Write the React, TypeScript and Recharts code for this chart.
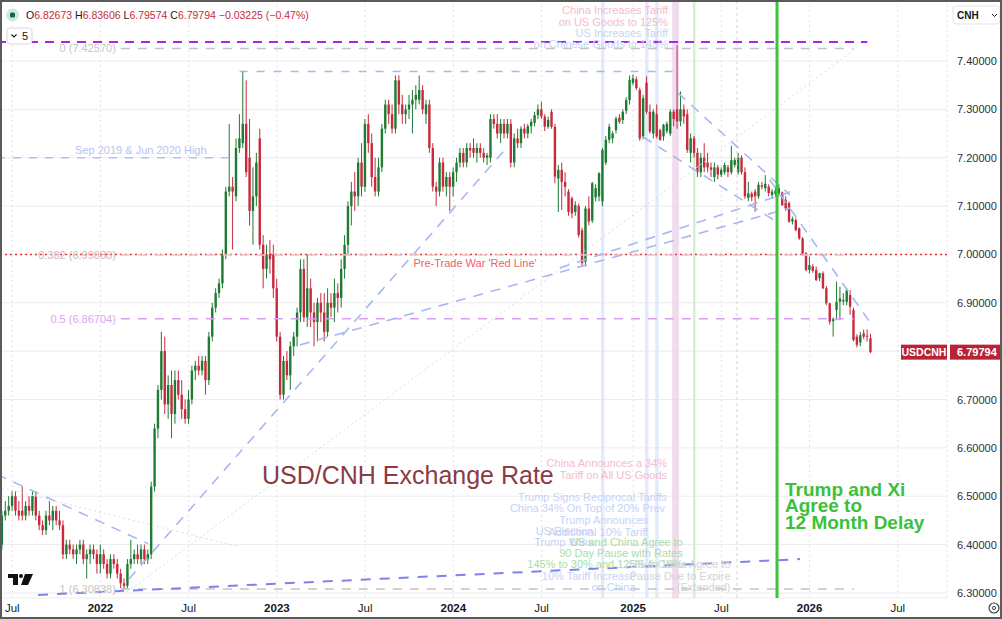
import React from "react";
import {
  ComposedChart,
  Bar,
  XAxis,
  YAxis,
  CartesianGrid,
  ReferenceLine,
  ReferenceArea,
  ReferenceDot,
} from "recharts";

// weekly USD/CNH candles [open, high, low, close], first bar = week of 14 Jun 2021
const ohlc: [number, number, number, number][] = [
  [6.40, 6.47, 6.39, 6.46], [6.46, 6.49, 6.45, 6.47], [6.47, 6.50, 6.46, 6.48], [6.48, 6.51, 6.47, 6.50],
  [6.50, 6.51, 6.46, 6.47], [6.47, 6.49, 6.45, 6.46], [6.47, 6.52, 6.45, 6.46], [6.46, 6.49, 6.45, 6.48],
  [6.48, 6.50, 6.46, 6.47], [6.47, 6.51, 6.46, 6.50], [6.50, 6.51, 6.45, 6.46], [6.46, 6.47, 6.43, 6.44],
  [6.44, 6.45, 6.42, 6.43], [6.43, 6.47, 6.42, 6.46], [6.46, 6.49, 6.44, 6.45], [6.45, 6.48, 6.43, 6.47],
  [6.47, 6.48, 6.44, 6.45], [6.45, 6.47, 6.43, 6.44], [6.44, 6.45, 6.37, 6.38], [6.38, 6.41, 6.37, 6.40],
  [6.40, 6.41, 6.38, 6.39], [6.39, 6.40, 6.37, 6.38], [6.38, 6.40, 6.36, 6.39], [6.39, 6.41, 6.38, 6.40],
  [6.40, 6.41, 6.36, 6.37], [6.37, 6.39, 6.33, 6.38], [6.38, 6.40, 6.36, 6.39], [6.39, 6.40, 6.37, 6.38],
  [6.38, 6.39, 6.34, 6.36], [6.36, 6.40, 6.34, 6.38], [6.38, 6.39, 6.35, 6.36], [6.36, 6.37, 6.33, 6.34],
  [6.34, 6.38, 6.33, 6.37], [6.37, 6.38, 6.35, 6.36], [6.36, 6.37, 6.33, 6.34], [6.34, 6.35, 6.31, 6.32],
  [6.32, 6.33, 6.308, 6.315], [6.315, 6.37, 6.31, 6.36], [6.36, 6.41, 6.35, 6.37], [6.37, 6.39, 6.36, 6.38],
  [6.38, 6.40, 6.36, 6.37], [6.37, 6.40, 6.36, 6.39], [6.39, 6.40, 6.36, 6.37], [6.37, 6.39, 6.36, 6.38],
  [6.38, 6.53, 6.37, 6.52], [6.52, 6.65, 6.51, 6.64], [6.64, 6.73, 6.62, 6.72], [6.72, 6.84, 6.70, 6.80],
  [6.80, 6.83, 6.67, 6.69], [6.69, 6.75, 6.66, 6.73], [6.73, 6.76, 6.62, 6.67], [6.67, 6.76, 6.65, 6.74],
  [6.74, 6.76, 6.70, 6.71], [6.71, 6.74, 6.66, 6.68], [6.68, 6.70, 6.65, 6.66], [6.66, 6.72, 6.65, 6.70],
  [6.70, 6.77, 6.69, 6.76], [6.76, 6.78, 6.74, 6.77], [6.77, 6.79, 6.75, 6.76], [6.76, 6.79, 6.75, 6.78],
  [6.78, 6.79, 6.71, 6.74], [6.74, 6.84, 6.73, 6.83], [6.83, 6.90, 6.82, 6.89], [6.89, 6.93, 6.88, 6.92],
  [6.92, 6.95, 6.91, 6.94], [6.94, 7.01, 6.93, 7.00], [7.00, 7.14, 6.99, 7.13], [7.13, 7.27, 7.12, 7.14],
  [7.14, 7.16, 7.01, 7.13], [7.12, 7.24, 7.11, 7.22], [7.22, 7.29, 7.21, 7.24], [7.23, 7.38, 7.22, 7.27],
  [7.27, 7.36, 7.16, 7.17], [7.20, 7.28, 7.06, 7.09], [7.09, 7.18, 7.02, 7.12], [7.12, 7.21, 7.10, 7.19],
  [7.24, 7.26, 7.01, 7.02], [7.02, 7.04, 6.93, 6.97], [6.97, 7.02, 6.95, 7.00], [7.00, 7.03, 6.96, 6.99],
  [7.00, 7.02, 6.91, 6.93], [6.93, 6.95, 6.82, 6.83], [6.83, 6.84, 6.70, 6.71], [6.71, 6.79, 6.70, 6.78],
  [6.78, 6.80, 6.74, 6.75], [6.75, 6.82, 6.72, 6.81], [6.81, 6.84, 6.79, 6.83], [6.83, 6.89, 6.81, 6.88],
  [6.88, 6.99, 6.86, 6.97], [6.97, 6.99, 6.86, 6.87], [6.87, 7.00, 6.85, 6.93], [6.93, 6.95, 6.85, 6.88],
  [6.88, 6.90, 6.81, 6.86], [6.86, 6.91, 6.82, 6.90], [6.90, 6.92, 6.86, 6.88], [6.88, 6.92, 6.82, 6.84],
  [6.84, 6.93, 6.83, 6.90], [6.90, 6.92, 6.87, 6.89], [6.89, 6.95, 6.86, 6.92], [6.92, 6.94, 6.88, 6.91],
  [6.91, 6.99, 6.89, 6.97], [6.97, 7.04, 6.95, 7.02], [7.02, 7.11, 7.00, 7.10], [7.10, 7.15, 7.06, 7.13],
  [7.13, 7.17, 7.09, 7.12], [7.12, 7.20, 7.10, 7.19], [7.19, 7.23, 7.12, 7.14], [7.14, 7.28, 7.13, 7.27],
  [7.27, 7.29, 7.21, 7.23], [7.23, 7.25, 7.14, 7.16], [7.16, 7.20, 7.12, 7.13], [7.13, 7.20, 7.12, 7.18],
  [7.18, 7.27, 7.17, 7.26], [7.26, 7.32, 7.25, 7.31], [7.31, 7.32, 7.27, 7.29], [7.29, 7.31, 7.25, 7.26],
  [7.26, 7.37, 7.25, 7.36], [7.36, 7.37, 7.29, 7.31], [7.31, 7.33, 7.27, 7.29], [7.29, 7.31, 7.27, 7.30],
  [7.30, 7.33, 7.28, 7.31], [7.31, 7.34, 7.25, 7.32], [7.32, 7.35, 7.30, 7.33], [7.32, 7.37, 7.31, 7.34],
  [7.34, 7.35, 7.29, 7.30], [7.29, 7.32, 7.27, 7.31], [7.31, 7.32, 7.21, 7.22], [7.22, 7.23, 7.13, 7.14],
  [7.14, 7.15, 7.10, 7.13], [7.13, 7.20, 7.12, 7.19], [7.19, 7.20, 7.13, 7.14], [7.14, 7.17, 7.12, 7.16],
  [7.16, 7.17, 7.09, 7.14], [7.14, 7.18, 7.12, 7.17], [7.17, 7.20, 7.15, 7.19], [7.19, 7.22, 7.18, 7.21],
  [7.21, 7.22, 7.18, 7.19], [7.19, 7.23, 7.18, 7.22], [7.22, 7.23, 7.20, 7.215], [7.22, 7.24, 7.20, 7.21],
  [7.21, 7.23, 7.19, 7.22], [7.22, 7.23, 7.20, 7.21], [7.21, 7.22, 7.19, 7.20], [7.20, 7.21, 7.185, 7.205],
  [7.20, 7.29, 7.19, 7.28], [7.28, 7.29, 7.26, 7.27], [7.27, 7.29, 7.24, 7.25], [7.25, 7.28, 7.23, 7.27],
  [7.27, 7.28, 7.24, 7.25], [7.25, 7.28, 7.24, 7.27], [7.27, 7.28, 7.18, 7.19], [7.19, 7.25, 7.18, 7.24],
  [7.24, 7.26, 7.22, 7.23], [7.23, 7.265, 7.22, 7.26], [7.26, 7.27, 7.24, 7.25], [7.25, 7.27, 7.24, 7.265],
  [7.265, 7.28, 7.25, 7.274], [7.272, 7.295, 7.265, 7.288], [7.288, 7.31, 7.28, 7.30], [7.30, 7.316, 7.28, 7.285],
  [7.285, 7.29, 7.255, 7.264], [7.264, 7.285, 7.26, 7.278], [7.295, 7.30, 7.26, 7.264], [7.264, 7.27, 7.147, 7.161],
  [7.157, 7.185, 7.088, 7.175], [7.175, 7.19, 7.092, 7.15], [7.15, 7.17, 7.12, 7.14], [7.13, 7.135, 7.08, 7.088],
  [7.116, 7.12, 7.075, 7.085], [7.088, 7.11, 7.08, 7.102], [7.10, 7.105, 7.035, 7.04], [7.05, 7.055, 6.975, 6.982],
  [6.985, 7.10, 6.975, 7.095], [7.095, 7.12, 7.06, 7.068], [7.07, 7.15, 7.065, 7.147], [7.118, 7.145, 7.11, 7.137],
  [7.12, 7.17, 7.11, 7.168], [7.11, 7.22, 7.10, 7.216], [7.19, 7.245, 7.185, 7.237], [7.237, 7.27, 7.23, 7.264],
  [7.24, 7.255, 7.23, 7.25], [7.257, 7.285, 7.25, 7.281], [7.283, 7.29, 7.27, 7.274], [7.278, 7.30, 7.27, 7.295],
  [7.297, 7.325, 7.29, 7.319], [7.319, 7.37, 7.31, 7.361], [7.355, 7.372, 7.35, 7.364], [7.362, 7.368, 7.34, 7.344],
  [7.34, 7.345, 7.235, 7.24], [7.244, 7.33, 7.238, 7.323], [7.355, 7.368, 7.29, 7.295], [7.295, 7.31, 7.25, 7.254],
  [7.25, 7.30, 7.24, 7.295], [7.29, 7.31, 7.24, 7.244], [7.257, 7.26, 7.235, 7.237], [7.244, 7.27, 7.235, 7.268],
  [7.255, 7.275, 7.25, 7.27], [7.25, 7.30, 7.245, 7.295], [7.295, 7.30, 7.265, 7.28], [7.30, 7.433, 7.26, 7.275],
  [7.275, 7.337, 7.265, 7.30], [7.30, 7.31, 7.27, 7.285], [7.29, 7.30, 7.21, 7.216], [7.21, 7.25, 7.19, 7.24],
  [7.24, 7.245, 7.20, 7.21], [7.21, 7.22, 7.16, 7.17], [7.17, 7.21, 7.16, 7.20], [7.20, 7.23, 7.17, 7.18],
  [7.19, 7.21, 7.17, 7.18], [7.18, 7.19, 7.16, 7.175], [7.16, 7.19, 7.15, 7.18], [7.18, 7.185, 7.155, 7.165],
  [7.165, 7.18, 7.16, 7.175], [7.17, 7.19, 7.165, 7.185], [7.18, 7.185, 7.16, 7.17], [7.17, 7.225, 7.165, 7.195],
  [7.185, 7.20, 7.18, 7.195], [7.17, 7.21, 7.165, 7.20], [7.20, 7.205, 7.165, 7.17], [7.17, 7.18, 7.115, 7.12],
  [7.117, 7.15, 7.11, 7.126], [7.126, 7.13, 7.11, 7.118], [7.13, 7.135, 7.088, 7.12], [7.12, 7.15, 7.115, 7.144],
  [7.143, 7.15, 7.135, 7.14], [7.137, 7.164, 7.13, 7.146], [7.14, 7.145, 7.12, 7.127], [7.123, 7.135, 7.115, 7.13],
  [7.125, 7.14, 7.12, 7.132], [7.126, 7.145, 7.12, 7.137], [7.128, 7.13, 7.10, 7.102], [7.113, 7.12, 7.09, 7.095],
  [7.106, 7.11, 7.065, 7.068], [7.068, 7.078, 7.062, 7.073], [7.071, 7.075, 7.048, 7.05], [7.054, 7.056, 7.03, 7.033],
  [7.033, 7.036, 6.998, 7.002], [7.002, 7.005, 6.965, 6.968], [6.968, 6.995, 6.96, 6.978], [6.975, 6.98, 6.962, 6.966],
  [6.968, 6.975, 6.945, 6.947], [6.951, 6.962, 6.945, 6.961], [6.961, 6.965, 6.928, 6.93], [6.93, 6.935, 6.895, 6.899],
  [6.899, 6.90, 6.855, 6.861], [6.862, 6.87, 6.83, 6.866], [6.885, 6.944, 6.864, 6.902], [6.902, 6.933, 6.864, 6.909],
  [6.903, 6.92, 6.895, 6.906], [6.902, 6.93, 6.895, 6.926], [6.916, 6.926, 6.875, 6.892], [6.885, 6.89, 6.82, 6.823],
  [6.83, 6.835, 6.808, 6.813], [6.818, 6.84, 6.81, 6.833], [6.837, 6.845, 6.825, 6.83], [6.832, 6.845, 6.82, 6.83019],
  [6.82673, 6.83606, 6.79574, 6.79794],
];

const xTicks = [3, 29, 55, 81, 107, 133, 159, 186, 212, 238, 264];
const xTickLabels = ["Jul", "2022", "Jul", "2023", "Jul", "2024", "Jul", "2025", "Jul", "2026", "Jul"];
const priceTicks = [6.3, 6.4, 6.5, 6.6, 6.7, 6.8, 6.9, 7.0, 7.1, 7.2, 7.3, 7.4];

// fibonacci retracement 2022 low -> 2025 high
const fibNames = ["0", "0.382", "0.5", "1"];
const fibValues = [7.4257, 6.99888, 6.86704, 6.30838];
const fibColors = ["#c4c4c4", "#efc3cb", "#d99ff3", "#c4c4c4"];
const fibTextColors = ["#c6c6c6", "#d8b4bb", "#d9a6f3", "#c6c6c6"];

// [week1, price1, week2, price2]
const trendLines: [number, number, number, number][] = [
  [-1.5, 6.545, 43, 6.402],
  [37.4, 6.329, 147.9, 7.214],
  [87.8, 6.813, 232.2, 7.096],
  [164.4, 6.972, 232.2, 7.129],
  [199.2, 7.334, 232.2, 7.123],
  [226.3, 7.154, 255.8, 6.86],
  [188.9, 7.243, 229.3, 7.063],
];
const faintLines: [number, number, number, number][] = [
  [-1.5, 6.52, 70, 6.395],
  [36.8, 6.302, 252, 7.427],
];
const baseLine: [number, number, number, number] = [10.6, 6.296, 235.2, 6.37];

const eventWeeks = { election: 177, tariff10: 190, tariff20: 193, reciprocal: [198, 199], geneva: 204, truce: 216.6, trumpXi: 228.4 };

const notes = [
  { text: "China Increases Tariff", i: 196.3, p: 7.5054, tone: "china" },
  { text: "on US Goods to 125%", i: 196.3, p: 7.4806, tone: "china" },
  { text: "US Increases Tariff", i: 196.3, p: 7.4579, tone: "us" },
  { text: "on Chinese Goods to 145%", i: 196.3, p: 7.4351, tone: "us" },
  { text: "China Announces a 34%", i: 196.0, p: 6.5687, tone: "china" },
  { text: "Tariff on All US Goods", i: 196.0, p: 6.5439, tone: "china" },
  { text: "Trump Signs Reciprocal Tariffs", i: 196.0, p: 6.4984, tone: "us" },
  { text: "China 34% On Top of 20% Prev", i: 195.4, p: 6.4757, tone: "us" },
  { text: "Trump Announces", i: 190.4, p: 6.4508, tone: "us" },
  { text: "Additional 10% Tariff", i: 190.4, p: 6.426, tone: "us" },
  { text: "US Election", i: 174.2, p: 6.4281, tone: "us" },
  { text: "Trump Wins", i: 174.2, p: 6.4053, tone: "us" },
  { text: "US and China Agree to", i: 200.6, p: 6.4053, tone: "deal" },
  { text: "90 Day Pause with Rates", i: 200.6, p: 6.3826, tone: "deal" },
  { text: "145% to 30% and 125% to 10%", i: 200.6, p: 6.3598, tone: "deal" },
  { text: "10% Tariff Increase", i: 186.7, p: 6.335, tone: "us" },
  { text: "on China", i: 186.7, p: 6.3123, tone: "us" },
  { text: "US & China Agree to", i: 214.7, p: 6.3598, tone: "truce" },
  { text: "Pause Due to Expire", i: 214.7, p: 6.335, tone: "truce" },
  { text: "(Extended)", i: 214.7, p: 6.3123, tone: "truce" },
];
const toneColor: Record<string, string> = {
  china: "#f4bccb",
  us: "#c6d3f6",
  deal: "#a9dca9",
  truce: "#d3d3d3",
};

const UP = "#1f7a33";
const DOWN = "#c62a3c";
const FONT = "'Liberation Sans', Arial, sans-serif";

const candles = ohlc.map(([o, h, l, c], i) => ({ i, o, h, l, c, range: [l, h] }));
const last = ohlc[ohlc.length - 1];
const prevClose = ohlc[ohlc.length - 2][3];
const chg = last[3] - prevClose;
const sign = (v: number) => (v < 0 ? "\u2212" : "+");

function Candle(props: any) {
  const { x, y, width, height, payload } = props;
  if (!payload || height == null) return null;
  const { o, h, l, c } = payload;
  const top = Math.min(y, y + height);
  const span = Math.abs(height);
  const k = h > l ? span / (h - l) : 0;
  const yo = top + (h - o) * k;
  const yc = top + (h - c) * k;
  const cx = x + width / 2;
  const color = c >= o ? UP : DOWN;
  return (
    <g>
      <line x1={cx} x2={cx} y1={top} y2={top + span} stroke={color} strokeWidth={1} />
      <rect x={cx - 1.2} y={Math.min(yo, yc)} width={2.4} height={Math.max(1, Math.abs(yc - yo))} fill={color} />
    </g>
  );
}

function XTick({ x, payload }: any) {
  const label = xTickLabels[xTicks.indexOf(payload.value)] ?? "";
  const year = /^\d{4}$/.test(label);
  return (
    <text x={x} y={612} textAnchor="middle" fontSize={11.5} fontWeight={year ? 700 : 400} fill="#131722">
      {label}
    </text>
  );
}

// the last-price tag hides the tick label it sits on
function YTick({ y, payload }: any) {
  if (Math.abs(payload.value - last[3]) < 0.03) return null;
  return (
    <text x={960} y={y + 4} fontSize={11} fill="#2a2e39">
      {Number(payload.value).toFixed(5)}
    </text>
  );
}

const textShape =
  (text: string, fill: string, size: number, anchor: "start" | "middle" | "end", weight = 400, dx = 0) =>
  (p: any) =>
    (
      <text x={p.cx + dx} y={p.cy} dy="0.35em" textAnchor={anchor} fontSize={size} fontWeight={weight} fill={fill}>
        {text}
      </text>
    );

const priceTag = (p: any) => (
  <g>
    <rect x={p.cx - 46} y={p.cy - 7.5} width={46} height={15} fill="#b72534" />
    <text x={p.cx - 23} y={p.cy} dy="0.35em" textAnchor="middle" fontSize={10.5} fontWeight={700} fill="#fff">
      USDCNH
    </text>
    <rect x={p.cx + 3} y={p.cy - 7.5} width={52} height={15} fill="#b72534" />
    <text x={p.cx + 10} y={p.cy} dy="0.35em" fontSize={11} fontWeight={700} fill="#fff">
      {last[3].toFixed(5)}
    </text>
  </g>
);

export default function App() {
  const seg = (a: [number, number, number, number]) => [
    { x: a[0], y: a[1] },
    { x: a[2], y: a[3] },
  ];
  return (
    <div
      style={{
        position: "absolute",
        left: 0,
        top: 0,
        width: 1002,
        height: 619,
        overflow: "hidden",
        background: "#fff",
        fontFamily: FONT,
      }}
    >
      <div style={{ position: "absolute", left: -3, top: 0 }}>
        <ComposedChart width={1005} height={619} data={candles} margin={{ top: 0, right: 0, left: 0, bottom: 0 }}>
          <CartesianGrid vertical={false} stroke="#ececec" />
          <CartesianGrid horizontal={false} stroke="#e2e2e2" strokeDasharray="2 3" />
          <XAxis
            type="number"
            dataKey="i"
            domain={[-1.5, 278.5]}
            allowDataOverflow
            ticks={xTicks}
            interval={0}
            axisLine={false}
            tickLine={false}
            height={21}
            tick={<XTick />}
          />
          <YAxis
            orientation="right"
            width={55}
            domain={[6.2896, 7.5261]}
            allowDataOverflow
            ticks={priceTicks}
            interval={0}
            axisLine={false}
            tickLine={false}
            tick={<YTick />}
          />

          <ReferenceArea x1={eventWeeks.election - 0.5} x2={eventWeeks.election + 0.5} fill="#dce5fb" fillOpacity={0.8} />
          <ReferenceArea x1={eventWeeks.tariff10 - 0.5} x2={eventWeeks.tariff10 + 0.5} fill="#dce5fb" fillOpacity={0.8} />
          <ReferenceArea x1={eventWeeks.tariff20 - 0.5} x2={eventWeeks.tariff20 + 0.5} fill="#dce5fb" fillOpacity={0.8} />
          <ReferenceArea
            x1={eventWeeks.reciprocal[0] - 0.5}
            x2={eventWeeks.reciprocal[1] + 0.5}
            fill="#ebd3e8"
            fillOpacity={0.8}
          />
          <ReferenceArea x1={eventWeeks.geneva - 0.35} x2={eventWeeks.geneva + 0.35} fill="#cdeecd" fillOpacity={0.9} />
          <ReferenceLine x={eventWeeks.truce} stroke="#d4d4d4" strokeDasharray="3 3" />

          <ReferenceLine y={7.0} stroke="#e53935" strokeWidth={1.6} strokeDasharray="2 3" />
          {fibValues.map((v, k) => (
            <ReferenceLine
              key={`fib${k}`}
              segment={[
                { x: 35, y: v },
                { x: 251, y: v },
              ]}
              stroke={fibColors[k]}
              strokeWidth={1.5}
              strokeDasharray="9 8"
            />
          ))}
          <ReferenceLine
            segment={[
              { x: -1.5, y: 7.439 },
              { x: 255, y: 7.439 },
            ]}
            stroke="#a424f2"
            strokeWidth={2}
            strokeDasharray="9 7"
          />
          <ReferenceLine
            segment={[
              { x: -1.5, y: 7.2 },
              { x: 67.8, y: 7.2 },
            ]}
            stroke="#b4c2f3"
            strokeWidth={1.5}
            strokeDasharray="8 8"
          />
          <ReferenceLine
            segment={[
              { x: 70, y: 7.378 },
              { x: 198, y: 7.378 },
            ]}
            stroke="#a9b6f2"
            strokeWidth={1.5}
            strokeDasharray="8 9"
          />
          {faintLines.map((t, k) => (
            <ReferenceLine key={`f${k}`} segment={seg(t)} stroke="#d5dbef" strokeWidth={1} strokeDasharray="2 3" />
          ))}
          {trendLines.map((t, k) => (
            <ReferenceLine key={`t${k}`} segment={seg(t)} stroke="#a9b6f2" strokeWidth={1.6} strokeDasharray="10 8" />
          ))}
          <ReferenceLine segment={seg(baseLine)} stroke="#7c83ef" strokeWidth={2} strokeDasharray="10 9" />
          <ReferenceLine x={eventWeeks.trumpXi} stroke="#3cc43c" strokeWidth={3} />

          <Bar dataKey="range" barSize={3} shape={<Candle />} isAnimationActive={false} />

          {fibValues.map((v, k) => (
            <ReferenceDot
              key={`fl${k}`}
              x={35}
              y={v}
              r={1}
              ifOverflow="visible"
              shape={textShape(`${fibNames[k]} (${v.toFixed(5)})`, fibTextColors[k], 11, "end", 400, -5)}
            />
          ))}
          <ReferenceDot x={40.9} y={7.2159} r={1} ifOverflow="visible" shape={textShape("Sep 2019 & Jun 2020 High", "#b5c4f3", 11, "middle")} />
          <ReferenceDot x={139.4} y={6.9823} r={1} ifOverflow="visible" shape={textShape("Pre-Trade War 'Red Line'", "#ef5d6c", 11, "middle")} />
          {notes.map((n, k) => (
            <ReferenceDot key={`n${k}`} x={n.i} y={n.p} r={1} ifOverflow="visible" shape={textShape(n.text, toneColor[n.tone], 11, "end")} />
          ))}
          <ReferenceDot x={119.6} y={6.5439} r={1} ifOverflow="visible" shape={textShape("USD/CNH Exchange Rate", "#8c3a45", 25, "middle")} />
          <ReferenceDot x={230.75} y={6.5149} r={1} ifOverflow="visible" shape={textShape("Trump and Xi", "#3cc03c", 19, "start", 700)} />
          <ReferenceDot x={230.75} y={6.4819} r={1} ifOverflow="visible" shape={textShape("Agree to", "#3cc03c", 19, "start", 700)} />
          <ReferenceDot x={230.75} y={6.4467} r={1} ifOverflow="visible" shape={textShape("12 Month Delay", "#3cc03c", 19, "start", 700)} />
          <ReferenceDot x={278.5} y={last[3]} r={1} ifOverflow="visible" shape={priceTag} />
        </ComposedChart>
      </div>

      <svg width={1002} height={619} style={{ position: "absolute", left: 0, top: 0, pointerEvents: "none" }}>
        <circle cx={12.5} cy={15} r={6.5} fill="#cfe8e4" />
        <rect x={10} y={12.5} width={5} height={5} rx={1.5} fill="#175f56" />
        <text x={26} y={18.8} fontSize={10.5}>
          <tspan fill="#131722">O</tspan>
          <tspan fill={DOWN}>{last[0].toFixed(5)} </tspan>
          <tspan fill="#131722">H</tspan>
          <tspan fill={DOWN}>{last[1].toFixed(5)} </tspan>
          <tspan fill="#131722">L</tspan>
          <tspan fill={DOWN}>{last[2].toFixed(5)} </tspan>
          <tspan fill="#131722">C</tspan>
          <tspan fill={DOWN}>
            {last[3].toFixed(5)} {sign(chg)}
            {Math.abs(chg).toFixed(5)} ({sign(chg)}
            {Math.abs((chg / prevClose) * 100).toFixed(2)}%)
          </tspan>
        </text>
        <rect x={7} y={28} width={25} height={16} rx={3} fill="#fff" stroke="#d6d8de" />
        <path d="M11.5 34.5 L14 37 L16.5 34.5" fill="none" stroke="#131722" strokeWidth={1.1} />
        <text x={22} y={40} fontSize={11} fill="#131722">
          5
        </text>

        <rect x={953} y={6} width={47} height={18} rx={3} fill="#fff" stroke="#e0e3eb" />
        <text x={957} y={18.5} fontSize={10} fontWeight={700} fill="#131722">
          CNH
        </text>
        <path d="M992 14 L994.5 16.5 L997 14" fill="none" stroke="#131722" strokeWidth={1} />

        <rect x={8} y={574} width={10} height={4} fill="#111" />
        <rect x={13} y={574} width={5} height={11} fill="#111" />
        <circle cx={21} cy={576} r={2} fill="#111" />
        <polygon points="25,574 33,574 28,585 21,585" fill="#111" />

        <circle cx={994} cy={608} r={5} fill="none" stroke="#444" strokeWidth={1.2} />
        <circle cx={994} cy={608} r={1.6} fill="none" stroke="#444" strokeWidth={1} />

        <rect x={1} y={1} width={1000} height={617} fill="none" stroke="#5a5a5a" strokeWidth={2} />
      </svg>
    </div>
  );
}
